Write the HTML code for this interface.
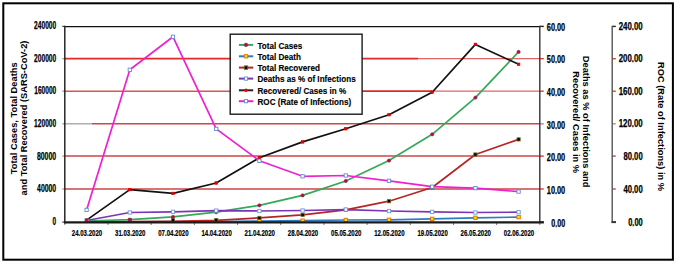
<!DOCTYPE html>
<html><head><meta charset="utf-8"><style>
html,body{margin:0;padding:0;background:#fff;width:676px;height:263px;overflow:hidden}
svg{display:block}
text{font-family:"Liberation Sans",sans-serif;font-weight:bold;fill:#000}
.lg{font-size:9.6px;fill:#000;stroke:#000;stroke-width:0.15px}
.ax{font-size:10px;stroke:#000;stroke-width:0.25px}
.xl{font-size:9.6px;stroke:#000;stroke-width:0.2px}
.tt{font-size:9.3px}
</style></head><body>
<svg width="676" height="263" viewBox="0 0 676 263">
<rect width="676" height="263" fill="#fff"/>
<rect x="3.3" y="3.3" width="669.6" height="256.4" fill="none" stroke="#000" stroke-width="2"/>
<line x1="64.8" y1="189.0" x2="539.8" y2="189.0" stroke="#cc4646" stroke-width="1.5"/>
<line x1="64.8" y1="156.1" x2="539.8" y2="156.1" stroke="#cc4646" stroke-width="1.5"/>
<line x1="64.8" y1="123.8" x2="92" y2="123.8" stroke="#a8a8a8" stroke-width="1.4"/>
<line x1="92" y1="123.8" x2="539.8" y2="123.8" stroke="#cc4646" stroke-width="1.4"/>
<line x1="64.8" y1="91.2" x2="362" y2="91.2" stroke="#d65656" stroke-width="1.5"/>
<line x1="362" y1="91.2" x2="432" y2="91.2" stroke="#de2a2a" stroke-width="1.8"/>
<line x1="432" y1="91.2" x2="539.8" y2="91.2" stroke="#e06464" stroke-width="1.3"/>
<line x1="64.8" y1="58.7" x2="418" y2="58.7" stroke="#de2a2a" stroke-width="1.7"/>
<line x1="418" y1="58.7" x2="539.8" y2="58.7" stroke="#e06464" stroke-width="1.2"/>
<line x1="62.2" y1="222.1" x2="64.8" y2="222.1" stroke="#444" stroke-width="1.2"/>
<line x1="62.2" y1="189.0" x2="64.8" y2="189.0" stroke="#999" stroke-width="1.2"/>
<line x1="62.2" y1="156.1" x2="64.8" y2="156.1" stroke="#999" stroke-width="1.2"/>
<line x1="62.2" y1="123.8" x2="64.8" y2="123.8" stroke="#999" stroke-width="1.2"/>
<line x1="62.2" y1="91.2" x2="64.8" y2="91.2" stroke="#999" stroke-width="1.2"/>
<line x1="62.2" y1="58.7" x2="64.8" y2="58.7" stroke="#999" stroke-width="1.2"/>
<line x1="62.2" y1="26.4" x2="64.8" y2="26.4" stroke="#444" stroke-width="1.2"/>
<line x1="539.8" y1="222.1" x2="543.8" y2="222.1" stroke="#222" stroke-width="1.4"/>
<line x1="539.8" y1="189.0" x2="543.8" y2="189.0" stroke="#d63f42" stroke-width="1.4"/>
<line x1="539.8" y1="156.1" x2="543.8" y2="156.1" stroke="#d63f42" stroke-width="1.4"/>
<line x1="539.8" y1="123.8" x2="543.8" y2="123.8" stroke="#999" stroke-width="1.4"/>
<line x1="539.8" y1="91.2" x2="543.8" y2="91.2" stroke="#d63f42" stroke-width="1.4"/>
<line x1="539.8" y1="58.7" x2="543.8" y2="58.7" stroke="#d63f42" stroke-width="1.4"/>
<line x1="539.8" y1="26.4" x2="543.8" y2="26.4" stroke="#222" stroke-width="1.4"/>
<line x1="612.2" y1="222.1" x2="615.8" y2="222.1" stroke="#222" stroke-width="1.4"/>
<line x1="612.2" y1="189.0" x2="615.8" y2="189.0" stroke="#d63f42" stroke-width="1.4"/>
<line x1="612.2" y1="156.1" x2="615.8" y2="156.1" stroke="#d63f42" stroke-width="1.4"/>
<line x1="612.2" y1="123.8" x2="615.8" y2="123.8" stroke="#999" stroke-width="1.4"/>
<line x1="612.2" y1="91.2" x2="615.8" y2="91.2" stroke="#d63f42" stroke-width="1.4"/>
<line x1="612.2" y1="58.7" x2="615.8" y2="58.7" stroke="#d63f42" stroke-width="1.4"/>
<line x1="612.2" y1="26.4" x2="615.8" y2="26.4" stroke="#222" stroke-width="1.4"/>
<line x1="64.80" y1="222.2" x2="64.80" y2="225.0" stroke="#777" stroke-width="1"/>
<line x1="107.98" y1="222.2" x2="107.98" y2="225.0" stroke="#777" stroke-width="1"/>
<line x1="151.16" y1="222.2" x2="151.16" y2="225.0" stroke="#777" stroke-width="1"/>
<line x1="194.35" y1="222.2" x2="194.35" y2="225.0" stroke="#777" stroke-width="1"/>
<line x1="237.53" y1="222.2" x2="237.53" y2="225.0" stroke="#777" stroke-width="1"/>
<line x1="280.71" y1="222.2" x2="280.71" y2="225.0" stroke="#777" stroke-width="1"/>
<line x1="323.89" y1="222.2" x2="323.89" y2="225.0" stroke="#777" stroke-width="1"/>
<line x1="367.07" y1="222.2" x2="367.07" y2="225.0" stroke="#777" stroke-width="1"/>
<line x1="410.25" y1="222.2" x2="410.25" y2="225.0" stroke="#777" stroke-width="1"/>
<line x1="453.44" y1="222.2" x2="453.44" y2="225.0" stroke="#777" stroke-width="1"/>
<line x1="496.62" y1="222.2" x2="496.62" y2="225.0" stroke="#777" stroke-width="1"/>
<line x1="539.80" y1="222.2" x2="539.80" y2="225.0" stroke="#777" stroke-width="1"/>
<line x1="64.8" y1="26.599999999999998" x2="539.8" y2="26.599999999999998" stroke="#111" stroke-width="1.3"/>
<line x1="64.8" y1="25.799999999999997" x2="64.8" y2="223.2" stroke="#262626" stroke-width="1.5"/>
<line x1="539.8" y1="25.799999999999997" x2="539.8" y2="223.2" stroke="#333" stroke-width="1.4"/>
<line x1="612.2" y1="25.799999999999997" x2="612.2" y2="222.79999999999998" stroke="#555" stroke-width="1.4"/>
<polyline points="86.60,222.00 129.80,221.90 173.00,221.70 216.20,221.60 259.40,221.10 302.60,220.70 345.80,220.00 389.00,219.80 432.20,218.90 475.40,217.80 518.60,217.10" fill="none" stroke="#2f7bc0" stroke-width="1.7" stroke-linejoin="round"/>
<polyline points="86.60,221.90 129.80,221.60 173.00,221.30 216.20,220.40 259.40,217.90 302.60,214.80 345.80,209.80 389.00,201.20 432.20,187.50 475.40,154.50 518.60,139.40" fill="none" stroke="#b82424" stroke-width="1.7" stroke-linejoin="round"/>
<polyline points="86.60,221.00 129.80,219.60 173.00,216.90 216.20,212.20 259.40,205.30 302.60,195.40 345.80,181.00 389.00,160.60 432.20,134.30 475.40,97.60 518.60,51.90" fill="none" stroke="#35a85a" stroke-width="1.7" stroke-linejoin="round"/>
<polyline points="86.60,220.50 129.80,212.50 173.00,211.80 216.20,210.60 259.40,211.00 302.60,210.50 345.80,209.60 389.00,211.00 432.20,211.90 475.40,212.50 518.60,212.20" fill="none" stroke="#7a36b4" stroke-width="1.7" stroke-linejoin="round"/>
<polyline points="86.60,220.10 129.80,189.60 173.00,193.40 216.20,183.00 259.40,157.80 302.60,141.90 345.80,128.70 389.00,114.70 432.20,92.20 475.40,44.40 518.60,64.30" fill="none" stroke="#111" stroke-width="1.7" stroke-linejoin="round"/>
<polyline points="86.60,209.90 129.80,69.80 173.00,36.80 216.20,128.90 259.40,160.80 302.60,176.30 345.80,175.50 389.00,180.80 432.20,186.70 475.40,188.10 518.60,191.60" fill="none" stroke="#f020d0" stroke-width="1.7" stroke-linejoin="round"/>
<rect x="257.70" y="219.40" width="3.4" height="3.4" fill="#ffe000" stroke="#e06a10" stroke-width="0.9"/>
<rect x="300.90" y="219.00" width="3.4" height="3.4" fill="#ffe000" stroke="#e06a10" stroke-width="0.9"/>
<rect x="344.10" y="218.30" width="3.4" height="3.4" fill="#ffe000" stroke="#e06a10" stroke-width="0.9"/>
<rect x="387.30" y="218.10" width="3.4" height="3.4" fill="#ffe000" stroke="#e06a10" stroke-width="0.9"/>
<rect x="430.50" y="217.20" width="3.4" height="3.4" fill="#ffe000" stroke="#e06a10" stroke-width="0.9"/>
<rect x="473.70" y="216.10" width="3.4" height="3.4" fill="#ffe000" stroke="#e06a10" stroke-width="0.9"/>
<rect x="516.90" y="215.40" width="3.4" height="3.4" fill="#ffe000" stroke="#e06a10" stroke-width="0.9"/>
<rect x="128.20" y="218.60" width="3.2" height="3.2" fill="#000" stroke="#6b6b20" stroke-width="0.8"/>
<rect x="171.40" y="218.60" width="3.2" height="3.2" fill="#000" stroke="#6b6b20" stroke-width="0.8"/>
<rect x="214.60" y="218.50" width="3.2" height="3.2" fill="#000" stroke="#6b6b20" stroke-width="0.8"/>
<rect x="257.80" y="216.30" width="3.2" height="3.2" fill="#000" stroke="#6b6b20" stroke-width="0.8"/>
<rect x="301.00" y="213.20" width="3.2" height="3.2" fill="#000" stroke="#6b6b20" stroke-width="0.8"/>
<rect x="344.20" y="208.20" width="3.2" height="3.2" fill="#000" stroke="#6b6b20" stroke-width="0.8"/>
<rect x="387.40" y="199.60" width="3.2" height="3.2" fill="#000" stroke="#6b6b20" stroke-width="0.8"/>
<rect x="430.60" y="185.90" width="3.2" height="3.2" fill="#000" stroke="#6b6b20" stroke-width="0.8"/>
<rect x="473.80" y="152.90" width="3.2" height="3.2" fill="#000" stroke="#6b6b20" stroke-width="0.8"/>
<rect x="517.00" y="137.80" width="3.2" height="3.2" fill="#000" stroke="#6b6b20" stroke-width="0.8"/>
<circle cx="86.60" cy="221.00" r="1.65" fill="#d4002a" stroke="#70306a" stroke-width="0.6"/>
<circle cx="129.80" cy="219.60" r="1.65" fill="#d4002a" stroke="#70306a" stroke-width="0.6"/>
<circle cx="173.00" cy="216.90" r="1.65" fill="#d4002a" stroke="#70306a" stroke-width="0.6"/>
<circle cx="216.20" cy="212.20" r="1.65" fill="#d4002a" stroke="#70306a" stroke-width="0.6"/>
<circle cx="259.40" cy="205.30" r="1.65" fill="#d4002a" stroke="#70306a" stroke-width="0.6"/>
<circle cx="302.60" cy="195.40" r="1.65" fill="#d4002a" stroke="#70306a" stroke-width="0.6"/>
<circle cx="345.80" cy="181.00" r="1.65" fill="#d4002a" stroke="#70306a" stroke-width="0.6"/>
<circle cx="389.00" cy="160.60" r="1.65" fill="#d4002a" stroke="#70306a" stroke-width="0.6"/>
<circle cx="432.20" cy="134.30" r="1.65" fill="#d4002a" stroke="#70306a" stroke-width="0.6"/>
<circle cx="475.40" cy="97.60" r="1.65" fill="#d4002a" stroke="#70306a" stroke-width="0.6"/>
<circle cx="518.60" cy="51.90" r="1.65" fill="#d4002a" stroke="#70306a" stroke-width="0.6"/>
<rect x="84.95" y="218.85" width="3.3" height="3.3" fill="#fff" stroke="#6d9bd6" stroke-width="0.9"/>
<rect x="128.15" y="210.85" width="3.3" height="3.3" fill="#fff" stroke="#6d9bd6" stroke-width="0.9"/>
<rect x="171.35" y="210.15" width="3.3" height="3.3" fill="#fff" stroke="#6d9bd6" stroke-width="0.9"/>
<rect x="214.55" y="208.95" width="3.3" height="3.3" fill="#fff" stroke="#6d9bd6" stroke-width="0.9"/>
<rect x="257.75" y="209.35" width="3.3" height="3.3" fill="#fff" stroke="#6d9bd6" stroke-width="0.9"/>
<rect x="300.95" y="208.85" width="3.3" height="3.3" fill="#fff" stroke="#6d9bd6" stroke-width="0.9"/>
<rect x="344.15" y="207.95" width="3.3" height="3.3" fill="#fff" stroke="#6d9bd6" stroke-width="0.9"/>
<rect x="387.35" y="209.35" width="3.3" height="3.3" fill="#fff" stroke="#6d9bd6" stroke-width="0.9"/>
<rect x="430.55" y="210.25" width="3.3" height="3.3" fill="#fff" stroke="#6d9bd6" stroke-width="0.9"/>
<rect x="473.75" y="210.85" width="3.3" height="3.3" fill="#fff" stroke="#6d9bd6" stroke-width="0.9"/>
<rect x="516.95" y="210.55" width="3.3" height="3.3" fill="#fff" stroke="#6d9bd6" stroke-width="0.9"/>
<rect x="85.30" y="218.80" width="2.6" height="2.6" fill="#e00000" stroke="#e00000" stroke-width="0.6"/>
<rect x="128.50" y="188.30" width="2.6" height="2.6" fill="#e00000" stroke="#e00000" stroke-width="0.6"/>
<rect x="171.70" y="192.10" width="2.6" height="2.6" fill="#e00000" stroke="#e00000" stroke-width="0.6"/>
<rect x="214.90" y="181.70" width="2.6" height="2.6" fill="#e00000" stroke="#e00000" stroke-width="0.6"/>
<rect x="258.10" y="156.50" width="2.6" height="2.6" fill="#e00000" stroke="#e00000" stroke-width="0.6"/>
<rect x="301.30" y="140.60" width="2.6" height="2.6" fill="#e00000" stroke="#e00000" stroke-width="0.6"/>
<rect x="344.50" y="127.40" width="2.6" height="2.6" fill="#e00000" stroke="#e00000" stroke-width="0.6"/>
<rect x="387.70" y="113.40" width="2.6" height="2.6" fill="#e00000" stroke="#e00000" stroke-width="0.6"/>
<rect x="430.90" y="90.90" width="2.6" height="2.6" fill="#e00000" stroke="#e00000" stroke-width="0.6"/>
<rect x="474.10" y="43.10" width="2.6" height="2.6" fill="#e00000" stroke="#e00000" stroke-width="0.6"/>
<rect x="517.30" y="63.00" width="2.6" height="2.6" fill="#e00000" stroke="#e00000" stroke-width="0.6"/>
<rect x="84.95" y="208.25" width="3.3" height="3.3" fill="#fff" stroke="#5f8fcc" stroke-width="0.9"/>
<rect x="128.15" y="68.15" width="3.3" height="3.3" fill="#fff" stroke="#5f8fcc" stroke-width="0.9"/>
<rect x="171.35" y="35.15" width="3.3" height="3.3" fill="#fff" stroke="#5f8fcc" stroke-width="0.9"/>
<rect x="214.55" y="127.25" width="3.3" height="3.3" fill="#fff" stroke="#5f8fcc" stroke-width="0.9"/>
<rect x="257.75" y="159.15" width="3.3" height="3.3" fill="#fff" stroke="#5f8fcc" stroke-width="0.9"/>
<rect x="300.95" y="174.65" width="3.3" height="3.3" fill="#fff" stroke="#5f8fcc" stroke-width="0.9"/>
<rect x="344.15" y="173.85" width="3.3" height="3.3" fill="#fff" stroke="#5f8fcc" stroke-width="0.9"/>
<rect x="387.35" y="179.15" width="3.3" height="3.3" fill="#fff" stroke="#5f8fcc" stroke-width="0.9"/>
<rect x="430.55" y="185.05" width="3.3" height="3.3" fill="#fff" stroke="#5f8fcc" stroke-width="0.9"/>
<rect x="473.75" y="186.45" width="3.3" height="3.3" fill="#fff" stroke="#5f8fcc" stroke-width="0.9"/>
<rect x="516.95" y="189.95" width="3.3" height="3.3" fill="#fff" stroke="#5f8fcc" stroke-width="0.9"/>
<line x1="64.0" y1="222.35" x2="543.8" y2="222.35" stroke="#1a1a1a" stroke-width="2.3"/>
<line x1="611.5" y1="222.2" x2="616" y2="222.2" stroke="#333" stroke-width="1.8"/>
<rect x="230.2" y="34.2" width="131.9" height="80.0" fill="#fff" stroke="#1a1a1a" stroke-width="1.4"/>
<line x1="238.9" y1="44.90" x2="253.2" y2="44.90" stroke="#35a85a" stroke-width="2"/>
<circle cx="246.00" cy="44.90" r="1.8" fill="#e0001c" stroke="#4a3c96" stroke-width="0.6"/>
<text transform="translate(257.5,48.60) scale(0.845,1)" class="lg">Total Cases</text>
<line x1="238.9" y1="56.30" x2="253.2" y2="56.30" stroke="#2f7bc0" stroke-width="2"/>
<rect x="244.30" y="54.60" width="3.4" height="3.4" fill="#ffd200" stroke="#e07a10" stroke-width="0.9"/>
<text transform="translate(257.5,60.00) scale(0.845,1)" class="lg">Total Death</text>
<line x1="238.9" y1="67.60" x2="253.2" y2="67.60" stroke="#b82424" stroke-width="2"/>
<rect x="244.30" y="65.90" width="3.4" height="3.4" fill="#000" stroke="#6b6b20" stroke-width="0.9"/>
<text transform="translate(257.5,71.30) scale(0.845,1)" class="lg">Total Recovered</text>
<line x1="238.9" y1="78.60" x2="253.2" y2="78.60" stroke="#7a36b4" stroke-width="2"/>
<rect x="244.40" y="77.00" width="3.2" height="3.2" fill="#fff" stroke="#5b8fd0" stroke-width="0.9"/>
<text transform="translate(257.5,82.30) scale(0.845,1)" class="lg">Deaths as % of Infections</text>
<line x1="238.9" y1="90.30" x2="253.2" y2="90.30" stroke="#222" stroke-width="2"/>
<circle cx="246.00" cy="90.30" r="1.7" fill="#e80000"/>
<text transform="translate(257.5,94.00) scale(0.845,1)" class="lg">Recovered/ Cases in %</text>
<line x1="238.9" y1="101.20" x2="253.2" y2="101.20" stroke="#f020d0" stroke-width="2"/>
<rect x="244.40" y="99.60" width="3.2" height="3.2" fill="#fff" stroke="#5b8fd0" stroke-width="0.9"/>
<text transform="translate(257.5,104.90) scale(0.845,1)" class="lg">ROC (Rate of Infections)</text>
<text x="56.2" y="224.75" class="ax" text-anchor="end" textLength="3.60" lengthAdjust="spacingAndGlyphs">0</text>
<text x="56.2" y="192.30" class="ax" text-anchor="end" textLength="19.10" lengthAdjust="spacingAndGlyphs">40000</text>
<text x="56.2" y="159.60" class="ax" text-anchor="end" textLength="19.30" lengthAdjust="spacingAndGlyphs">80000</text>
<text x="56.2" y="127.30" class="ax" text-anchor="end" textLength="22.10" lengthAdjust="spacingAndGlyphs">120000</text>
<text x="56.2" y="94.25" class="ax" text-anchor="end" textLength="21.90" lengthAdjust="spacingAndGlyphs">160000</text>
<text x="56.2" y="61.65" class="ax" text-anchor="end" textLength="22.10" lengthAdjust="spacingAndGlyphs">200000</text>
<text x="56.2" y="29.05" class="ax" text-anchor="end" textLength="22.10" lengthAdjust="spacingAndGlyphs">240000</text>
<text x="565.2" y="226.85" class="ax" text-anchor="end" textLength="13.90" lengthAdjust="spacingAndGlyphs">0.00</text>
<text x="565.2" y="193.75" class="ax" text-anchor="end" textLength="18.40" lengthAdjust="spacingAndGlyphs">10.00</text>
<text x="565.2" y="160.85" class="ax" text-anchor="end" textLength="18.40" lengthAdjust="spacingAndGlyphs">20.00</text>
<text x="565.2" y="128.55" class="ax" text-anchor="end" textLength="18.40" lengthAdjust="spacingAndGlyphs">30.00</text>
<text x="565.2" y="95.95" class="ax" text-anchor="end" textLength="18.40" lengthAdjust="spacingAndGlyphs">40.00</text>
<text x="565.2" y="63.45" class="ax" text-anchor="end" textLength="18.40" lengthAdjust="spacingAndGlyphs">50.00</text>
<text x="565.2" y="31.15" class="ax" text-anchor="end" textLength="18.40" lengthAdjust="spacingAndGlyphs">60.00</text>
<text x="642.7" y="225.65" class="ax" text-anchor="end" textLength="14.55" lengthAdjust="spacingAndGlyphs">0.00</text>
<text x="642.7" y="192.55" class="ax" text-anchor="end" textLength="19.30" lengthAdjust="spacingAndGlyphs">40.00</text>
<text x="642.7" y="159.65" class="ax" text-anchor="end" textLength="19.30" lengthAdjust="spacingAndGlyphs">80.00</text>
<text x="642.7" y="127.35" class="ax" text-anchor="end" textLength="24.05" lengthAdjust="spacingAndGlyphs">120.00</text>
<text x="642.7" y="94.75" class="ax" text-anchor="end" textLength="24.05" lengthAdjust="spacingAndGlyphs">160.00</text>
<text x="642.7" y="62.25" class="ax" text-anchor="end" textLength="24.05" lengthAdjust="spacingAndGlyphs">200.00</text>
<text x="642.7" y="29.95" class="ax" text-anchor="end" textLength="24.05" lengthAdjust="spacingAndGlyphs">240.00</text>
<text x="87.00" y="235.5" class="xl" text-anchor="middle" textLength="30.4" lengthAdjust="spacingAndGlyphs">24.03.2020</text>
<text x="130.20" y="235.5" class="xl" text-anchor="middle" textLength="30.4" lengthAdjust="spacingAndGlyphs">31.03.2020</text>
<text x="173.40" y="235.5" class="xl" text-anchor="middle" textLength="30.4" lengthAdjust="spacingAndGlyphs">07.04.2020</text>
<text x="216.60" y="235.5" class="xl" text-anchor="middle" textLength="30.4" lengthAdjust="spacingAndGlyphs">14.04.2020</text>
<text x="259.80" y="235.5" class="xl" text-anchor="middle" textLength="30.4" lengthAdjust="spacingAndGlyphs">21.04.2020</text>
<text x="303.00" y="235.5" class="xl" text-anchor="middle" textLength="30.4" lengthAdjust="spacingAndGlyphs">28.04.2020</text>
<text x="346.20" y="235.5" class="xl" text-anchor="middle" textLength="30.4" lengthAdjust="spacingAndGlyphs">05.05.2020</text>
<text x="389.40" y="235.5" class="xl" text-anchor="middle" textLength="30.4" lengthAdjust="spacingAndGlyphs">12.05.2020</text>
<text x="432.60" y="235.5" class="xl" text-anchor="middle" textLength="30.4" lengthAdjust="spacingAndGlyphs">19.05.2020</text>
<text x="475.80" y="235.5" class="xl" text-anchor="middle" textLength="30.4" lengthAdjust="spacingAndGlyphs">26.05.2020</text>
<text x="519.00" y="235.5" class="xl" text-anchor="middle" textLength="30.4" lengthAdjust="spacingAndGlyphs">02.06.2020</text>
<text class="tt" transform="translate(16.6,118.3) rotate(-90)" text-anchor="middle">Total Cases, Total Deaths</text>
<text class="tt" transform="translate(26.7,118.0) rotate(-90)" text-anchor="middle">and Total Recovered (SARS-CoV-2)</text>
<text class="tt" transform="translate(583.3,121.6) rotate(90)" text-anchor="middle">Deaths as % of Infections and</text>
<text class="tt" transform="translate(573.2,122.2) rotate(90)" text-anchor="middle">Recovered/ Cases in %</text>
<text class="tt" transform="translate(658.0,126.5) rotate(90)" text-anchor="middle">ROC (Rate of Infections) in %</text>
</svg>
</body></html>
